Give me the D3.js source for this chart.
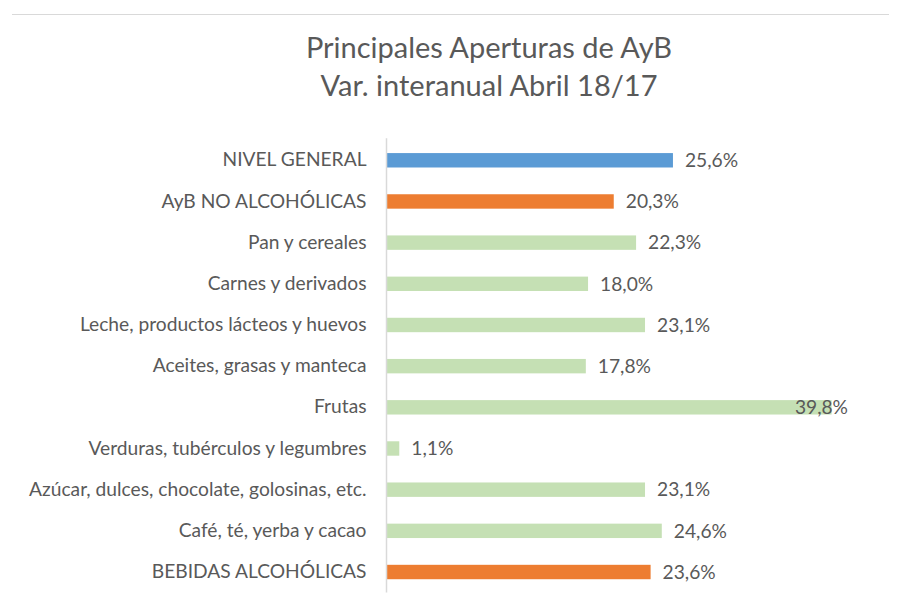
<!DOCTYPE html>
<html>
<head>
<meta charset="utf-8">
<script src="https://cdn.jsdelivr.net/npm/d3@7"></script>
<style>
  body { margin: 0; background: #fff; }
  svg { display: block; }
</style>
</head>
<body>
<svg id="chart" width="901" height="607"></svg>
<script>
const categories = [
  "NIVEL GENERAL",
  "AyB NO ALCOHÓLICAS",
  "Pan y cereales",
  "Carnes y derivados",
  "Leche, productos lácteos y huevos",
  "Aceites, grasas y manteca",
  "Frutas",
  "Verduras, tubérculos y legumbres",
  "Azúcar, dulces, chocolate, golosinas, etc.",
  "Café, té, yerba y cacao",
  "BEBIDAS ALCOHÓLICAS"
];
const values = [25.6, 20.3, 22.3, 18.0, 23.1, 17.8, 39.8, 1.1, 23.1, 24.6, 23.6];
const groups = ["general", "rubro", "sub", "sub", "sub", "sub", "sub", "sub", "sub", "sub", "rubro"];
const titleLines = ["Principales Aperturas de AyB", "Var. interanual Abril 18/17"];

const colors = { general: "#5B9BD5", rubro: "#ED7D31", sub: "#C5E0B4" };
const textColor = "#595959";
const font = "Lato, 'Open Sans', sans-serif";

const svg = d3.select("#chart");
const plotLeft = 387, plotRight = 848, plotTop = 139.7, plotBottom = 592.6;

const x = d3.scaleLinear().domain([0, 40]).range([plotLeft, plotLeft + 40 * 11.17]);
const y = d3.scaleBand().domain(categories).range([plotTop, plotBottom]).paddingInner(0.65).paddingOuter(0.325);

const fmt = v => d3.format(".1f")(v).replace(".", ",") + "%";

// top border line
svg.append("line").attr("x1", 12).attr("x2", 889).attr("y1", 14.5).attr("y2", 14.5)
  .attr("stroke", "#D9D9D9").attr("stroke-width", 1);

// title
svg.append("text").attr("x", 489).attr("y", 58).attr("text-anchor", "middle")
  .attr("font-family", font).attr("font-size", 29).attr("fill", textColor).text(titleLines[0]);
svg.append("text").attr("x", 489).attr("y", 96).attr("text-anchor", "middle")
  .attr("font-family", font).attr("font-size", 29).attr("fill", textColor).text(titleLines[1]);

// bars
svg.append("g").selectAll("rect").data(values).join("rect")
  .attr("x", x(0))
  .attr("y", (d, i) => y(categories[i]))
  .attr("width", d => x(d) - x(0))
  .attr("height", y.bandwidth())
  .attr("fill", (d, i) => colors[groups[i]]);

// axis
const axis = svg.append("g").attr("transform", `translate(${plotLeft - 0.5},0)`)
  .call(d3.axisLeft(y).tickSize(0).tickPadding(20));
axis.select(".domain").attr("stroke", "#D9D9D9").attr("stroke-width", 1.5)
  .attr("d", `M0,${plotTop - 1.5}V${plotBottom}`);
axis.selectAll(".tick text").attr("font-family", font).attr("font-size", 19.2).attr("fill", textColor);

// data labels
svg.append("g").selectAll("text").data(values).join("text")
  .attr("font-family", font).attr("font-size", 19.2).attr("fill", textColor)
  .attr("y", (d, i) => y(categories[i]) + y.bandwidth() / 2)
  .attr("dy", "0.35em")
  .text(d => fmt(d))
  .each(function(d) {
    const w = this.getComputedTextLength();
    let xs = x(d) + 12;
    if (xs + w > plotRight) xs = plotRight - w;
    d3.select(this).attr("x", xs);
  });
</script>
</body>
</html>
